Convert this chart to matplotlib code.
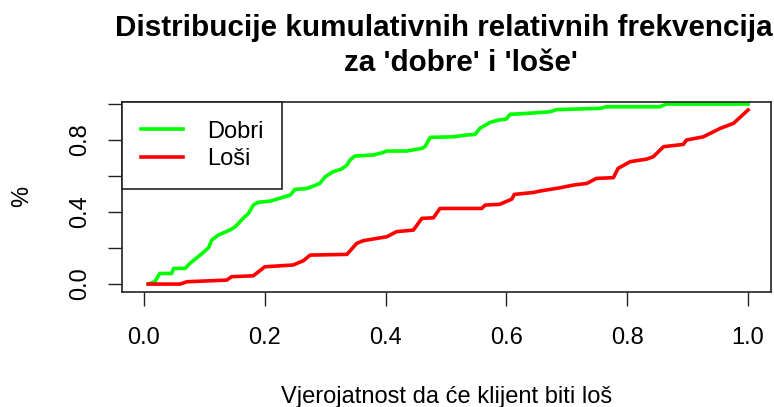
import matplotlib
matplotlib.use("Agg")
import matplotlib.pyplot as plt
from matplotlib.lines import Line2D

plt.rcParams['font.family'] = ['Liberation Sans', 'DejaVu Sans']

# cumulative relative frequencies, vertices
dobri_x = [0.007, 0.018, 0.026, 0.046, 0.049, 0.068, 0.076, 0.093, 0.107, 0.112,
           0.123, 0.142, 0.151, 0.164, 0.173, 0.181, 0.189, 0.209, 0.220, 0.242,
           0.250, 0.269, 0.278, 0.291, 0.300, 0.313, 0.327, 0.336, 0.341, 0.349,
           0.380, 0.396, 0.402, 0.435, 0.460, 0.465, 0.474, 0.512, 0.534, 0.548,
           0.556, 0.573, 0.587, 0.600, 0.606, 0.634, 0.672, 0.683, 0.755, 0.766,
           0.854, 0.865, 1.0]
dobri_y = [0.0, 0.013, 0.059, 0.059, 0.087, 0.087, 0.115, 0.161, 0.202, 0.244,
           0.272, 0.300, 0.318, 0.365, 0.393, 0.439, 0.454, 0.461, 0.472, 0.494,
           0.526, 0.531, 0.541, 0.559, 0.596, 0.624, 0.639, 0.661, 0.689, 0.711,
           0.717, 0.731, 0.739, 0.739, 0.754, 0.763, 0.815, 0.818, 0.828, 0.831,
           0.865, 0.898, 0.911, 0.917, 0.943, 0.948, 0.957, 0.969, 0.976, 0.985,
           0.985, 1.0, 1.0]

losi_x = [0.007, 0.060, 0.071, 0.137, 0.145, 0.181, 0.200, 0.247, 0.264, 0.275,
          0.336, 0.352, 0.363, 0.402, 0.418, 0.446, 0.460, 0.479, 0.490, 0.559,
          0.565, 0.589, 0.609, 0.613, 0.645, 0.656, 0.689, 0.711, 0.733, 0.749,
          0.777, 0.785, 0.805, 0.832, 0.843, 0.860, 0.893, 0.898, 0.926, 0.954,
          0.976, 1.0]
losi_y = [0.0, 0.0, 0.013, 0.022, 0.041, 0.046, 0.096, 0.106, 0.130, 0.161,
          0.165, 0.226, 0.241, 0.263, 0.291, 0.300, 0.365, 0.368, 0.420, 0.420,
          0.439, 0.443, 0.472, 0.498, 0.509, 0.517, 0.535, 0.550, 0.559, 0.587,
          0.591, 0.643, 0.680, 0.694, 0.707, 0.763, 0.776, 0.800, 0.818, 0.865,
          0.893, 0.967]

x_ticks = [0.0, 0.2, 0.4, 0.6, 0.8, 1.0]
x_labels = ['0.0', '0.2', '0.4', '0.6', '0.8', '1.0']
y_ticks = [0.0, 0.2, 0.4, 0.6, 0.8, 1.0]
y_labels = ['0.0', '', '0.4', '', '0.8', '']
title_lines = ["Distribucije kumulativnih relativnih frekvencija", "za 'dobre' i 'loše'"]

fig = plt.figure(figsize=(7.74, 4.07), dpi=100)
ax = fig.add_axes([122 / 774, 1 - 292 / 407, (771 - 122) / 774, (292 - 101.7) / 407])

ax.plot(dobri_x, dobri_y, color='#00ff00', lw=2.6, label='Dobri')
ax.plot(losi_x, losi_y, color='#ff0000', lw=2.6, label='Loši')

ax.set_xlim(-0.0364, 1.038)
ax.set_ylim(-0.044, 1.013)
ax.set_xticks(x_ticks)
ax.set_xticklabels(x_labels)
ax.set_yticks(y_ticks)
ax.set_yticklabels(y_labels, rotation=90, va='center')
ax.tick_params(direction='out', length=10, width=1, labelsize=17, color='#222222')
ax.tick_params(axis='x', pad=15)
ax.tick_params(axis='y', pad=12)
for s in ax.spines.values():
    s.set_linewidth(1.2)
    s.set_color('#222222')

ax.set_xlabel('Vjerojatnost da će klijent biti loš', fontsize=17, labelpad=27)
ax.set_ylabel('%', fontsize=17, labelpad=26)

# two title lines, each centred on its own like R does
fig.text(443.5 / 774, 1 - 36 / 407, title_lines[0], ha='center', va='baseline',
         fontsize=21.3, fontweight='bold')
fig.text(460.5 / 774, 1 - 71 / 407, title_lines[1], ha='center', va='baseline',
         fontsize=21.3, fontweight='bold')

handles = [Line2D([], [], color='#00ff00', lw=2.6), Line2D([], [], color='#ff0000', lw=2.6)]
leg = ax.legend(handles, ['Dobri', 'Loši'], loc='upper left', bbox_to_anchor=(0, 1),
                borderaxespad=0, fancybox=False, framealpha=1, edgecolor='#222222',
                fontsize=17, handlelength=1.8, handletextpad=1.0, labelspacing=0.25,
                borderpad=0.8)
leg.get_frame().set_linewidth(1.2)

fig.savefig('out.png', dpi=100)
